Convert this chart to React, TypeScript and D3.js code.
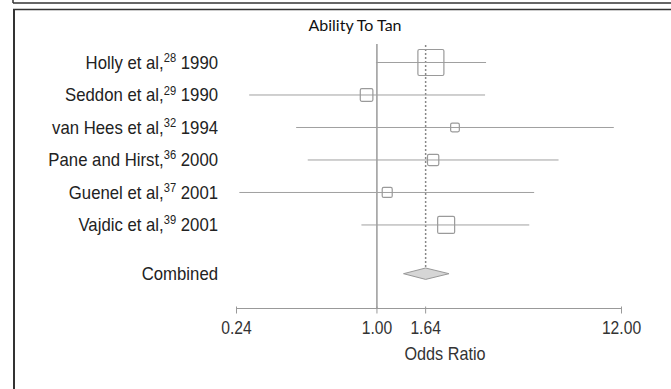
import React from 'react';
import * as d3 from 'd3';

// studies
const studies = ['Holly et al,', 'Seddon et al,', 'van Hees et al,', 'Pane and Hirst,', 'Guenel et al,', 'Vajdic et al,'];
const refs = ['28', '29', '32', '36', '37', '39'];
const years = ['1990', '1990', '1994', '2000', '2001', '2001'];
const oddsRatio = [1.73, 0.90, 2.21, 1.77, 1.11, 2.02];
const ciLow = [0.99, 0.273, 0.44, 0.495, 0.247, 0.854];
const ciHigh = [3.03, 3.0, 11.1, 6.33, 4.94, 4.7];
const weights = [47.3, 11.1, 5.3, 8.9, 7.0, 20.2];
const combined = { or: 1.64, lo: 1.31, hi: 2.08 };
const tickValues = [0.24, 1.0, 1.64, 12.0];

const W = 671;
const H = 389;

const App = () => {
  const x = d3.scaleLog().domain([0.24, 12]).range([236.5, 621.5]);
  // row index -> y; combined sits one and a half rows below the last study
  const y = d3.scaleLinear().domain([0, 6.5]).range([62.5, 273.7]);
  const box = d3.scaleSqrt().domain([0, d3.max(weights) as number]).range([0, 26]);
  const axisY = 308.5;
  const labelFont = '"Liberation Sans", Arial, sans-serif';
  const cy = y(6.5);
  const dh = 5.7;

  return (
    <svg width={W} height={H} style={{ position: 'absolute', left: 0, top: 0, background: '#fff' }}>
      {/* frame */}
      <line x1={13} x2={W} y1={3} y2={3} stroke="#333" strokeWidth={1.5} />
      <line x1={13} x2={13} y1={0} y2={3} stroke="#333" strokeWidth={1.5} />
      <line x1={13} x2={W} y1={9.5} y2={9.5} stroke="#333" strokeWidth={1.5} />
      <line x1={14} x2={14} y1={9} y2={H} stroke="#333" strokeWidth={2} />

      <text x={355} y={31} textAnchor="middle" fontFamily="Lato, 'Open Sans', sans-serif" fontSize={16} fill="#111">
        Ability To Tan
      </text>

      {/* null line and combined estimate line */}
      <line x1={x(1)} x2={x(1)} y1={44} y2={axisY} stroke="#666" strokeWidth={1} />
      <line x1={x(combined.or)} x2={x(combined.or)} y1={45} y2={cy - dh} stroke="#888" strokeWidth={1.5} strokeDasharray="2,2" />

      {studies.map((s, i) => {
        const yy = y(i);
        const sz = box(weights[i]);
        return (
          <g key={s}>
            <line x1={x(ciLow[i])} x2={x(ciHigh[i])} y1={yy} y2={yy} stroke="#a0a0a0" strokeWidth={1} />
            <rect x={x(oddsRatio[i]) - sz / 2} y={yy - sz / 2} width={sz} height={sz} rx={1.5}
              fill="none" stroke="#9a9a9a" strokeWidth={1.2} />
            <text transform={`translate(218,${yy + 6.5}) scale(0.93,1)`} textAnchor="end"
              fontFamily={labelFont} fontSize={18} fill="#222">
              {s}
              <tspan fontSize={12} dy={-7}>{refs[i]}</tspan>
              <tspan dy={7}>{' ' + years[i]}</tspan>
            </text>
          </g>
        );
      })}

      <text transform={`translate(218,${cy + 6.5}) scale(0.93,1)`} textAnchor="end"
        fontFamily={labelFont} fontSize={18} fill="#222">Combined</text>
      <path
        d={`M${x(combined.lo)},${cy}L${x(combined.or)},${cy - dh}L${x(combined.hi)},${cy}L${x(combined.or)},${cy + dh}Z`}
        fill="#d6d6d6" stroke="#999" strokeWidth={1} />

      {/* x axis */}
      <line x1={x(0.24)} x2={x(12)} y1={axisY} y2={axisY} stroke="#999" strokeWidth={1} />
      {tickValues.map((t) => (
        <g key={t}>
          <line x1={x(t)} x2={x(t)} y1={axisY - 2} y2={axisY + 5} stroke="#999" strokeWidth={1} />
          <text transform={`translate(${x(t)},${axisY + 25}) scale(0.87,1)`} textAnchor="middle"
            fontFamily={labelFont} fontSize={18} fill="#333">
            {d3.format('.2f')(t)}
          </text>
        </g>
      ))}
      <text transform={`translate(445,${axisY + 51}) scale(0.9,1)`} textAnchor="middle"
        fontFamily={labelFont} fontSize={18} fill="#333">Odds Ratio</text>
    </svg>
  );
};

export default App;
